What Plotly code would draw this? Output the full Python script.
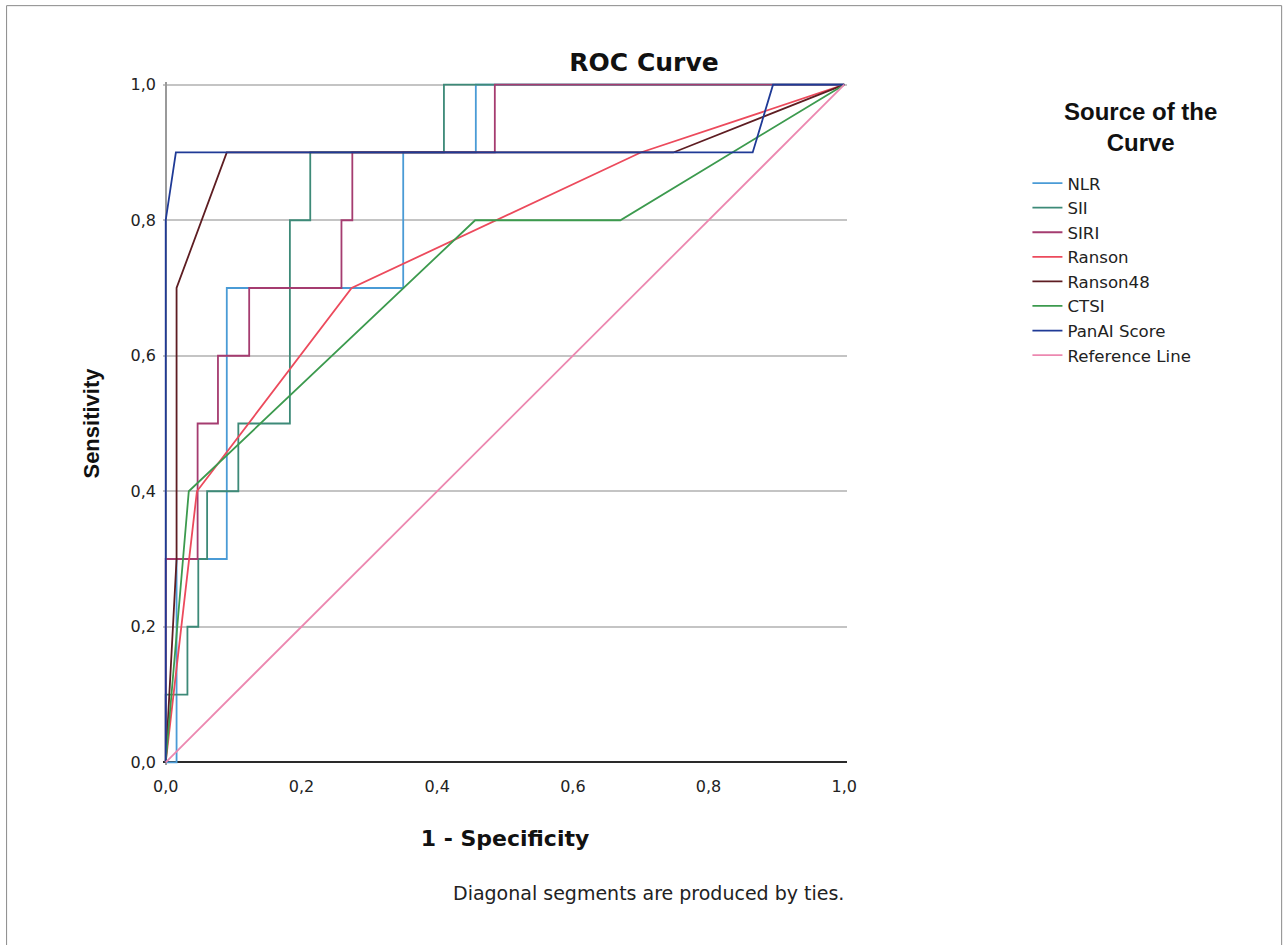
import plotly.graph_objects as go

# ---------------- data ----------------
nlr_x = [0, 0.016, 0.016, 0.09, 0.09, 0.35, 0.35, 0.457, 0.457, 1.0]
nlr_y = [0, 0.0, 0.3, 0.3, 0.7, 0.7, 0.9, 0.9, 1.0, 1.0]

sii_x = [0, 0, 0.032, 0.032, 0.048, 0.048, 0.061, 0.061, 0.107, 0.107, 0.183, 0.183, 0.213, 0.213, 0.41, 0.41, 1.0]
sii_y = [0, 0.1, 0.1, 0.2, 0.2, 0.3, 0.3, 0.4, 0.4, 0.5, 0.5, 0.8, 0.8, 0.9, 0.9, 1.0, 1.0]

siri_x = [0, 0, 0.047, 0.047, 0.077, 0.077, 0.123, 0.123, 0.259, 0.259, 0.275, 0.275, 0.485, 0.485, 1.0]
siri_y = [0, 0.3, 0.3, 0.5, 0.5, 0.6, 0.6, 0.7, 0.7, 0.8, 0.8, 0.9, 0.9, 1.0, 1.0]

ranson_x = [0, 0.046, 0.274, 0.70, 1.0]
ranson_y = [0, 0.4, 0.7, 0.9, 1.0]

ranson48_x = [0, 0.016, 0.016, 0.09, 0.748, 1.0]
ranson48_y = [0, 0.3, 0.7, 0.9, 0.9, 1.0]

ctsi_x = [0, 0.034, 0.456, 0.67, 1.0]
ctsi_y = [0, 0.4, 0.8, 0.8, 1.0]

panai_x = [0, 0, 0.015, 0.865, 0.895, 1.0]
panai_y = [0, 0.8, 0.9, 0.9, 1.0, 1.0]

ref_x = [0, 1]
ref_y = [0, 1]

names = ["NLR", "SII", "SIRI", "Ranson", "Ranson48", "CTSI", "PanAI Score", "Reference Line"]
colors = ["#4a9bd6", "#3d8a78", "#a53c70", "#ec4a5c", "#5e1d22", "#3c9a4e", "#1f3a96", "#ec88b0"]
xs = [nlr_x, sii_x, siri_x, ranson_x, ranson48_x, ctsi_x, panai_x, ref_x]
ys = [nlr_y, sii_y, siri_y, ranson_y, ranson48_y, ctsi_y, panai_y, ref_y]

tick_vals = [0, 0.2, 0.4, 0.6, 0.8, 1.0]

# ---------------- layout geometry ----------------
W_FIG, H_FIG = 1288, 945
PAD = 0.004
X0_PX, X1_PX = 166, 844
Y0_PX, Y1_PX = 762, 85
sx = X1_PX - X0_PX
sy = Y0_PX - Y1_PX
L = X0_PX - PAD * sx
PW = sx * (1 + 2 * PAD)
T = Y1_PX - PAD * sy
PH = sy * (1 + 2 * PAD)
R = W_FIG - L - PW
B = H_FIG - T - PH


def px_x(p):
    return (p - L) / PW


def px_y(p):
    return (T + PH - p) / PH


fig = go.Figure()
for x, y, n, c in zip(xs, ys, names, colors):
    fig.add_trace(go.Scatter(x=x, y=y, mode="lines", name=n,
                             line=dict(color=c, width=1.8)))

TXT = "DejaVu Sans"
fig.update_layout(
    width=W_FIG, height=H_FIG,
    margin=dict(l=L, r=R, t=T, b=B, autoexpand=False),
    paper_bgcolor="white", plot_bgcolor="white",
    separators=",.",
    title=dict(text="<b>ROC Curve</b>", x=0.5, xanchor="center",
               y=1 - 62 / H_FIG, yanchor="middle",
               font=dict(family=TXT, size=25, color="#111")),
    xaxis=dict(range=[-PAD, 1 + PAD], tickvals=tick_vals, tickformat=".1f",
               showgrid=False, zeroline=True, zerolinecolor="#9a9a9a", zerolinewidth=2,
               showline=False, ticks="", ticklabelstandoff=10,
               tickfont=dict(family=TXT, size=16, color="#222"),
               title=dict(text="<b>1 - Specificity</b>", standoff=35,
                          font=dict(family=TXT, size=22, color="#111"))),
    yaxis=dict(range=[-PAD, 1 + PAD], tickvals=tick_vals, tickformat=".1f",
               showgrid=True, gridcolor="#c4c4c4", gridwidth=1.5,
               zeroline=True, zerolinecolor="#2a2a2a", zerolinewidth=2,
               showline=False, ticks="", ticklabelstandoff=6,
               tickfont=dict(family=TXT, size=16, color="#222"),
               title=dict(text="<b>Sensitivity</b>", standoff=24,
                          font=dict(family="Liberation Sans", size=22, color="#111"))),
    legend=dict(x=px_x(1027), xanchor="left", y=px_y(166), yanchor="top",
                font=dict(family=TXT, size=16.6, color="#222"),
                bgcolor="rgba(0,0,0,0)"),
    showlegend=True,
)

# legend heading (centred over the legend entries)
fig.add_annotation(text="<b>Source of the<br>Curve</b>", align="center",
                   xref="paper", yref="paper", x=px_x(1140), y=px_y(127),
                   xanchor="center", yanchor="middle", showarrow=False,
                   font=dict(family="Liberation Sans", size=24, color="#111"))

fig.add_annotation(text="Diagonal segments are produced by ties.",
                   xref="paper", yref="paper", x=px_x(648), y=px_y(893),
                   xanchor="center", yanchor="middle", showarrow=False,
                   font=dict(family=TXT, size=19, color="#222"))

fig.add_shape(type="rect", xref="paper", yref="paper",
              x0=px_x(7), x1=px_x(1281), y0=px_y(960), y1=px_y(6),
              line=dict(color="#8a8a8a", width=1), fillcolor="rgba(0,0,0,0)",
              layer="below")

fig.write_html("out.html", config={"displayModeBar": False},
               post_script="document.body.style.margin='0px';")
